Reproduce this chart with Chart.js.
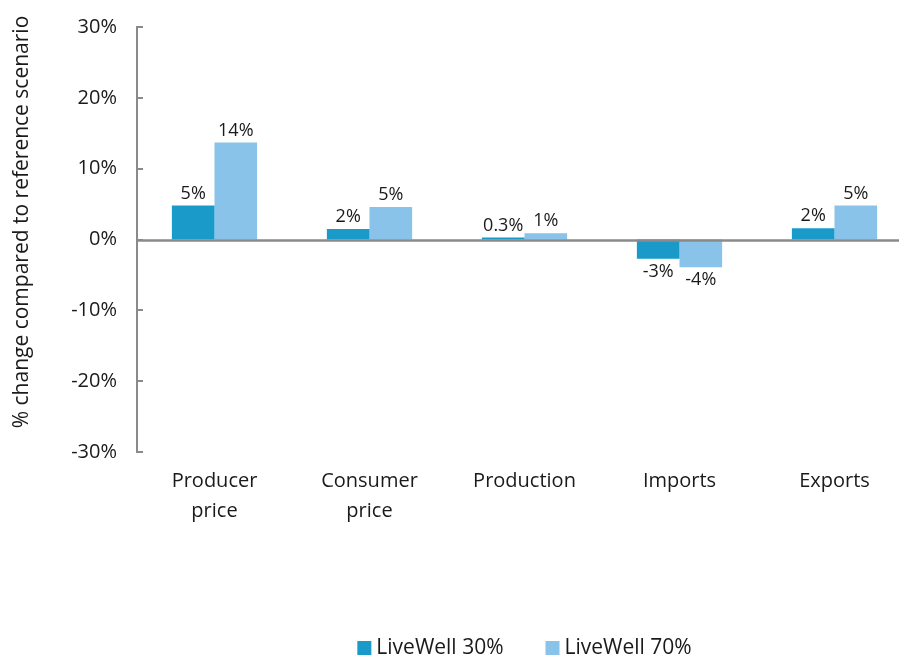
<!DOCTYPE html>
<html>
<head>
<meta charset="utf-8">
<script src="https://cdn.jsdelivr.net/npm/chart.js@4.4.1/dist/chart.umd.min.js"></script>
<style>
  html, body { margin: 0; padding: 0; background: #fff; overflow: hidden; }
  #wrap { position: relative; width: 915px; height: 655px; }
</style>
</head>
<body>
<div id="wrap"><canvas id="chart"></canvas></div>
<script>
const categories = [["Producer", "price"], ["Consumer", "price"], "Production", "Imports", "Exports"];
const livewell30 = [4.8, 1.5, 0.3, -2.7, 1.6];
const livewell70 = [13.7, 4.6, 0.9, -3.9, 4.8];
const labels30 = ["5%", "2%", "0.3%", "-3%", "2%"];
const labels70 = ["14%", "5%", "1%", "-4%", "5%"];
const yMin = -30;
const yMax = 30;
const yStep = 10;
const yTitle = "% change compared to reference scenario";

const FONT = "'Open Sans', 'Noto Sans', sans-serif";
const TEXT = "#1a1a1a";
const AXIS_GREY = "#8a8a8a";

// value labels above / below each bar
const barLabels = {
  id: "barLabels",
  afterDatasetsDraw(chart) {
    const ctx = chart.ctx;
    const texts = [labels30, labels70];
    ctx.save();
    ctx.font = "18px " + FONT;
    ctx.fillStyle = TEXT;
    ctx.textAlign = "center";
    chart.data.datasets.forEach((ds, i) => {
      chart.getDatasetMeta(i).data.forEach((bar, j) => {
        if (ds.data[j] >= 0) {
          ctx.textBaseline = "bottom";
          ctx.fillText(texts[i][j], bar.x, bar.y - 3);
        } else {
          ctx.textBaseline = "top";
          ctx.fillText(texts[i][j], bar.x, bar.y + 4);
        }
      });
    });
    ctx.restore();
  }
};

// tick marks pointing into the plot, the zero line, y title and legend
const extras = {
  id: "extras",
  afterDraw(chart) {
    const ctx = chart.ctx;
    const y = chart.scales.y;
    const area = chart.chartArea;
    ctx.save();
    ctx.strokeStyle = AXIS_GREY;
    ctx.lineWidth = 2;
    y.ticks.forEach(t => {
      const py = Math.round(y.getPixelForValue(t.value));
      ctx.beginPath();
      ctx.moveTo(area.left, py);
      ctx.lineTo(area.left + 6, py);
      ctx.stroke();
    });
    const zy = Math.round(y.getPixelForValue(0)) + 0.5;
    ctx.lineWidth = 2.5;
    ctx.beginPath();
    ctx.moveTo(area.left, zy);
    ctx.lineTo(area.right, zy);
    ctx.stroke();

    // rotated axis title
    ctx.fillStyle = TEXT;
    ctx.font = "21px " + FONT;
    ctx.translate(22, 222);
    ctx.rotate(-Math.PI / 2);
    ctx.textAlign = "center";
    ctx.textBaseline = "middle";
    ctx.fillText(yTitle, 0, 0);
    ctx.setTransform(1, 0, 0, 1, 0, 0);

    // legend, centred on the plot area
    ctx.font = "21px " + FONT;
    ctx.textAlign = "left";
    const box = 14, gap = 5, spacing = 42;
    const items = chart.data.datasets.map(ds => ({
      text: ds.label, color: ds.backgroundColor, w: ctx.measureText(ds.label).width
    }));
    let total = items.reduce((s, it) => s + box + gap + it.w, 0) + spacing * (items.length - 1);
    let x = (area.left + area.right) / 2 - total / 2;
    const cy = 648;
    items.forEach(it => {
      ctx.fillStyle = it.color;
      ctx.fillRect(x, cy - 7, box, box);
      ctx.fillStyle = TEXT;
      ctx.fillText(it.text, x + box + gap, cy);
      x += box + gap + it.w + spacing;
    });
    ctx.restore();
  }
};

const ctx = document.getElementById("chart").getContext("2d");
new Chart(ctx, {
  type: "bar",
  data: {
    labels: categories,
    datasets: [
      { label: "LiveWell 30%", data: livewell30, backgroundColor: "#1a9ac9", borderWidth: 0 },
      { label: "LiveWell 70%", data: livewell70, backgroundColor: "#89c3ea", borderWidth: 0 }
    ]
  },
  options: {
    responsive: true,
    maintainAspectRatio: false,
    animation: false,
    layout: {
      autoPadding: false,
      padding: { top: 27, right: 3, bottom: 23, left: 0 }
    },
    datasets: {
      bar: { barPercentage: 1.0, categoryPercentage: 0.55 }
    },
    plugins: {
      legend: { display: false },
      tooltip: { enabled: false }
    },
    scales: {
      x: {
        border: { display: false },
        grid: { display: false, drawTicks: false },
        ticks: {
          color: TEXT,
          padding: 14,
          maxRotation: 0,
          font: { family: FONT, size: 20, lineHeight: 1.5 }
        },
        afterFit(scale) { scale.height = 180; }
      },
      y: {
        min: yMin,
        max: yMax,
        border: { display: true, color: AXIS_GREY, width: 2 },
        grid: { display: false, drawTicks: false },
        ticks: {
          stepSize: yStep,
          padding: 20,
          color: TEXT,
          font: { family: FONT, size: 20 },
          callback: v => v + "%"
        },
        afterFit(scale) {
          scale.width = 137;
          // tick padding also pads the ends of a vertical axis; drop that
          scale.paddingTop = 0;
          scale.paddingBottom = 0;
        }
      }
    }
  },
  plugins: [barLabels, extras]
});
</script>
</body>
</html>
